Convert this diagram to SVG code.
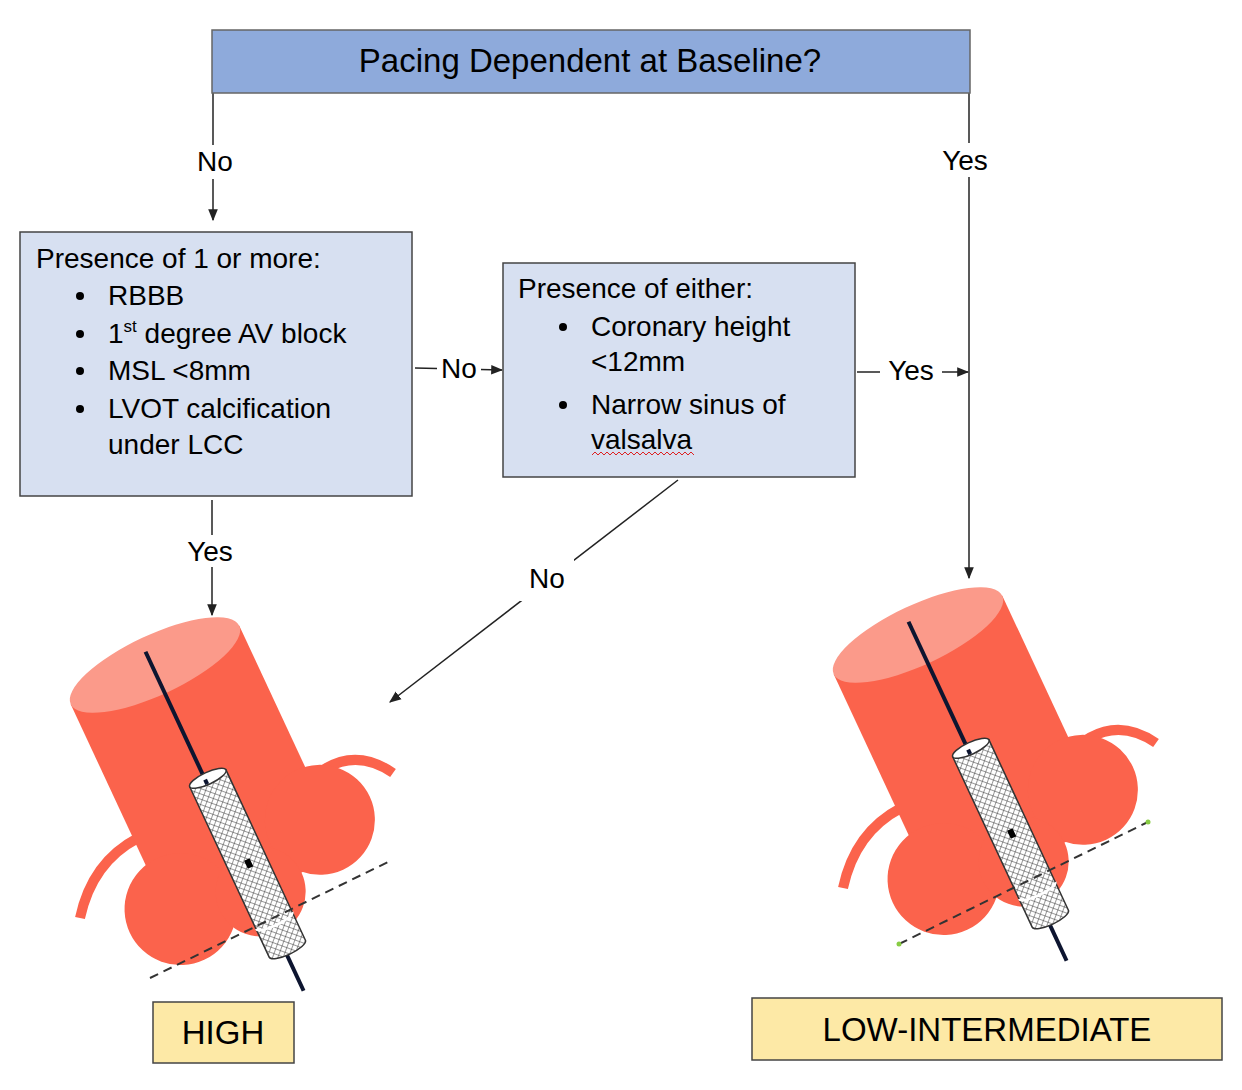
<svg xmlns="http://www.w3.org/2000/svg" width="1242" height="1090" viewBox="0 0 1242 1090">
<style>
text{font-family:"Liberation Sans",Arial,sans-serif;fill:#000}
.t{font-size:28px}
.c{stroke:#222;stroke-width:1.5;fill:none}
.red{fill:#fb634c}
.arc{fill:none;stroke:#fb634c;stroke-width:10}
.lbl{fill:#fff}
</style>
<defs>
<marker id="ah" viewBox="0 0 10 10" refX="9" refY="5" markerWidth="8" markerHeight="8" orient="auto"><path d="M0,1L10,5L0,9z" fill="#222"/></marker>
<pattern id="mesh" width="5" height="5" patternUnits="userSpaceOnUse" patternTransform="rotate(45)"><rect width="5" height="5" fill="#fff"/><path d="M0,0V5M0,0H5" stroke="#333" stroke-width="1"/></pattern>
<g id="valve">
<path class="arc" d="M300,790 Q345,740 393,773"/>
<path class="arc" d="M80,918 Q92,862 138,838"/>
<g transform="translate(155,665) rotate(-25)">
<rect class="red" x="-93" y="0" width="186" height="250"/>
<circle class="red" cx="84" cy="210" r="55"/>
<circle class="red" cx="-80" cy="232" r="56"/>
<circle class="red" cx="0" cy="250" r="45"/>
<ellipse cx="0" cy="0" rx="93" ry="30" fill="#fb9a8a"/>
<line x1="-3" y1="-16" x2="-3" y2="125" stroke="#0d1530" stroke-width="4"/>
<line x1="-3" y1="313" x2="-3" y2="358" stroke="#0d1530" stroke-width="4"/>
<path d="M-20,125V313A20,6 0 0 0 20,313V125Z" fill="url(#mesh)" stroke="#333" stroke-width="1.5"/>
<ellipse cx="0" cy="125" rx="20" ry="6" fill="#fff" stroke="#333" stroke-width="1.5"/>
<line x1="-3" y1="125" x2="-3" y2="130" stroke="#0d1530" stroke-width="4"/>
<path d="M-20,282A20,5 0 0 0 20,282" fill="none" stroke="#fff" stroke-width="2.5"/>
<rect x="-2" y="215" width="6" height="9" fill="#000"/>
</g>
</g>
</defs>

<g id="connectors">
<line class="c" x1="213" y1="93" x2="213" y2="220" marker-end="url(#ah)"/>
<rect class="lbl" x="193" y="145" width="42" height="34"/>
<text class="t" x="215" y="171" text-anchor="middle">No</text>
<line class="c" x1="969" y1="93" x2="969" y2="578" marker-end="url(#ah)"/>
<rect class="lbl" x="935" y="143" width="62" height="34"/>
<text class="t" x="965" y="170" text-anchor="middle">Yes</text>
<line class="c" x1="415" y1="368" x2="502" y2="370" marker-end="url(#ah)"/>
<rect class="lbl" x="437" y="352" width="44" height="32"/>
<text class="t" x="459" y="378" text-anchor="middle">No</text>
<line class="c" x1="857" y1="372" x2="968" y2="372" marker-end="url(#ah)"/>
<rect class="lbl" x="880" y="355" width="62" height="32"/>
<text class="t" x="911" y="380" text-anchor="middle">Yes</text>
<line class="c" x1="212" y1="500" x2="212" y2="615" marker-end="url(#ah)"/>
<rect class="lbl" x="180" y="535" width="62" height="32"/>
<text class="t" x="210" y="561" text-anchor="middle">Yes</text>
<line class="c" x1="678" y1="480" x2="390" y2="702" marker-end="url(#ah)"/>
<rect class="lbl" x="520" y="555" width="54" height="46"/>
<text class="t" x="547" y="588" text-anchor="middle">No</text>
</g>

<g id="baseline">
<rect x="212" y="30" width="758" height="63" fill="#8eaadb" stroke="#666" stroke-width="1.5"/>
<text x="590" y="72" font-size="33" text-anchor="middle">Pacing Dependent at Baseline?</text>
</g>

<g id="criteria1">
<rect x="20" y="232" width="392" height="264" fill="#d7e0f1" stroke="#444" stroke-width="1.5"/>
<text class="t" x="36" y="268">Presence of 1 or more:</text>
<g class="t">
<circle cx="80" cy="296" r="4"/><text class="t" x="108" y="305">RBBB</text>
<circle cx="80" cy="334" r="4"/><text class="t" x="108" y="343">1<tspan font-size="17" dy="-11">st</tspan><tspan dy="11"> degree AV block</tspan></text>
<circle cx="80" cy="371" r="4"/><text class="t" x="108" y="380">MSL &lt;8mm</text>
<circle cx="80" cy="409" r="4"/><text class="t" x="108" y="418">LVOT calcification</text>
<text class="t" x="108" y="454">under LCC</text>
</g>
</g>

<g id="criteria2">
<rect x="503" y="263" width="352" height="214" fill="#d7e0f1" stroke="#444" stroke-width="1.5"/>
<text class="t" x="518" y="298">Presence of either:</text>
<circle cx="563" cy="327" r="4"/><text class="t" x="591" y="336">Coronary height</text>
<text class="t" x="591" y="371">&lt;12mm</text>
<circle cx="563" cy="405" r="4"/><text class="t" x="591" y="414">Narrow sinus of</text>
<text class="t" x="591" y="449">valsalva</text>
<path d="M592,455 l3,-3 3,3 3,-3 3,3 3,-3 3,3 3,-3 3,3 3,-3 3,3 3,-3 3,3 3,-3 3,3 3,-3 3,3 3,-3 3,3 3,-3 3,3 3,-3 3,3 3,-3 3,3 3,-3 3,3 3,-3 3,3 3,-3 3,3 3,-3 3,3 3,-3 3,3" fill="none" stroke="#d22" stroke-width="1"/>
</g>

<g id="valve-left">
<use href="#valve"/>
<line x1="150" y1="978" x2="388" y2="862" stroke="#333" stroke-width="2" stroke-dasharray="9,6"/>
</g>
<g id="valve-right">
<use href="#valve" transform="translate(763,-30)"/>
<line x1="899" y1="944" x2="1148" y2="822" stroke="#333" stroke-width="2" stroke-dasharray="9,6"/>
<circle cx="899" cy="944" r="2.5" fill="#8c4"/><circle cx="1148" cy="822" r="2.5" fill="#8c4"/>
</g>

<g id="high">
<rect x="153" y="1002" width="141" height="61" fill="#fde9a6" stroke="#444" stroke-width="1.5"/>
<text x="223" y="1044" font-size="33" text-anchor="middle">HIGH</text>
</g>
<g id="low">
<rect x="752" y="998" width="470" height="62" fill="#fde9a6" stroke="#444" stroke-width="1.5"/>
<text x="987" y="1041" font-size="33" text-anchor="middle">LOW-INTERMEDIATE</text>
</g>
</svg>
